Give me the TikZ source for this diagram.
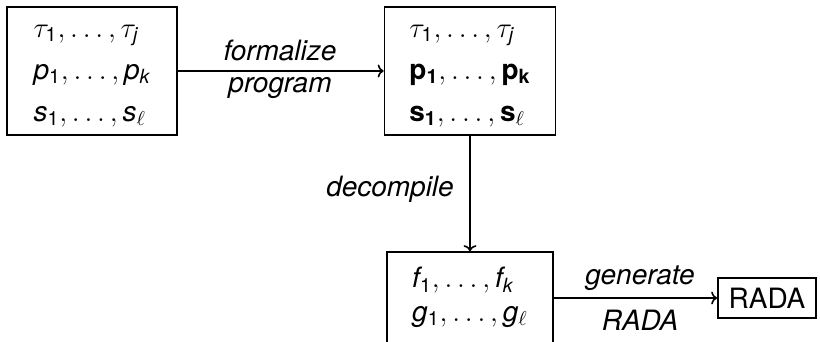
\documentclass[tikz,border=0pt]{standalone}
\usepackage{fontspec}
\setmainfont{TeX Gyre Heros}
\usetikzlibrary{arrows.meta}
\newcommand\oneSub{\mathrm{1}}
\begin{document}
\begin{tikzpicture}[x=0.5pt,y=-0.5pt,
  box/.style={draw, line width=0.8pt, inner sep=0pt, font=\fontsize{14}{16}\selectfont},
  lbl/.style={font=\fontsize{14}{16}\selectfont\itshape, anchor=base, inner sep=0pt},
  conn/.style={line width=0.8pt, -{To[length=3pt,width=6.5pt]}}]
\clip (0,0) rectangle (820,342);
\node[box, minimum width=85pt, minimum height=64pt] (in) at (92,71)
  {\def\arraystretch{1.31}\begin{tabular}{@{}l@{}}
   $\tau_\oneSub,\ldots,\tau_{\mathit{j}}$\\
   $\mathit{p}_\oneSub,\ldots,\mathit{p}_{\mathit{k}}$\\
   $\mathit{s}_\oneSub,\ldots,\mathit{s}_\ell$
   \end{tabular}};
\node[box, minimum width=85.5pt, minimum height=64pt] (mid) at (470,71)
  {\def\arraystretch{1.31}\begin{tabular}{@{}l@{}}
   $\tau_\oneSub,\ldots,\tau_{\mathit{j}}$\\
   $\mathbf{p}_{\mathbf{1}},\ldots,\mathbf{p}_{\mathbf{k}}$\\
   $\mathbf{s}_{\mathbf{1}},\ldots,\mathbf{s}_\ell$
   \end{tabular}};
\node[box, minimum width=83pt, minimum height=46pt] (low) at (470,298)
  {\def\arraystretch{1.05}\begin{tabular}{@{}l@{}}
   $\mathit{f}_\oneSub,\ldots,\mathit{f}_{\mathit{k}}$\\
   $\mathit{g}_\oneSub,\ldots,\mathit{g}_\ell$
   \end{tabular}};
\node[draw, line width=0.8pt, inner sep=0pt, minimum width=49pt, minimum height=20pt,
  font=\fontsize{14}{16}\selectfont] (rada) at (767,298) {RADA};
\draw[conn] (in) -- (mid);
\draw[conn] (mid) -- (low);
\draw[conn] (low) -- (rada);
\node[lbl] (l1) at (280,61) {formalize};
\node[lbl] (l2) at (280,93) {program};
\node[lbl] (l3) at (390,197) {decompile};
\node[lbl] (l4) at (640,285) {generate};
\node[lbl] (l5) at (640,330) {RADA};
\end{tikzpicture}
\end{document}
